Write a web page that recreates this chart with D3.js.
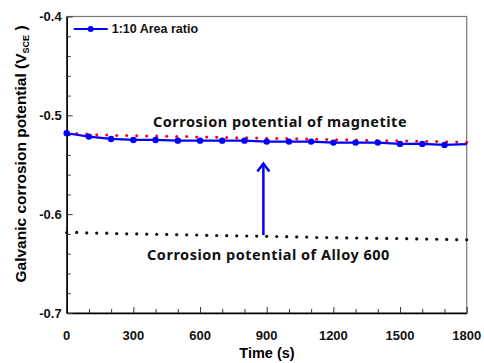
<!DOCTYPE html>
<html>
<head>
<meta charset="utf-8">
<script src="https://cdn.jsdelivr.net/npm/d3@7"></script>
<style>
  body { margin: 0; background: #fff; }
  text { font-family: "Liberation Sans", Arial, sans-serif; }
</style>
</head>
<body>
<div id="chart"></div>
<script>
// -------------------- DATA --------------------
const xTicks = [0, 300, 600, 900, 1200, 1500, 1800];
const yTicks = [-0.4, -0.5, -0.6, -0.7];

// blue series (1:10 area ratio), marker every 100 s
const blueTime = [0, 100, 200, 300, 400, 500, 600, 700, 800, 900, 1000, 1100, 1200, 1300, 1400, 1500, 1600, 1700];
const blueValue = [-0.5181, -0.5215, -0.5239, -0.5249, -0.5249, -0.5256, -0.5256, -0.5256, -0.5256, -0.5266, -0.5266, -0.5266, -0.5276, -0.5276, -0.5276, -0.5289, -0.5289, -0.5299];
const blueEnd = { t: 1800, v: -0.5292 };

// red dotted: corrosion potential of magnetite (every 45 s)
const redValue = [-0.5182, -0.5185, -0.5190, -0.5196, -0.5200, -0.5203, -0.5205, -0.5207, -0.5208, -0.5210,
  -0.5212, -0.5214, -0.5215, -0.5218, -0.5220, -0.5222, -0.5224, -0.5226, -0.5228, -0.5230,
  -0.5232, -0.5234, -0.5235, -0.5237, -0.5240, -0.5242, -0.5244, -0.5246, -0.5248, -0.5250,
  -0.5252, -0.5254, -0.5256, -0.5258, -0.5260, -0.5262, -0.5264, -0.5266, -0.5268, -0.5270, -0.5272];

// black dotted: corrosion potential of Alloy 600 (every 45 s)
const blackValue = [-0.6186, -0.6185, -0.6190, -0.6191, -0.6192, -0.6197, -0.6199, -0.6200, -0.6202, -0.6204,
  -0.6205, -0.6207, -0.6209, -0.6211, -0.6214, -0.6216, -0.6218, -0.6219, -0.6221, -0.6222,
  -0.6224, -0.6226, -0.6228, -0.6230, -0.6232, -0.6236, -0.6237, -0.6238, -0.6240, -0.6241,
  -0.6242, -0.6244, -0.6245, -0.6246, -0.6248, -0.6250, -0.6252, -0.6254, -0.6256, -0.6258, -0.6260];
const dotStep = 45;

const arrow = { t: 885, from: -0.6212, to: -0.5477 };

// -------------------- CHART --------------------
const width = 484, height = 363;
const margin = { top: 16.5, right: 17.3, bottom: 50, left: 66.7 };
const plotW = width - margin.left - margin.right;
const plotH = height - margin.top - margin.bottom;

const x = d3.scaleLinear().domain([0, 1800]).range([0, plotW]);
const y = d3.scaleLinear().domain([-0.7, -0.4]).range([plotH, 0]);

const svg = d3.select("#chart").append("svg")
  .attr("width", width)
  .attr("height", height);

const g = svg.append("g")
  .attr("transform", `translate(${margin.left},${margin.top})`);

// frame (top/right gray)
g.append("rect")
  .attr("x", 0).attr("y", 0)
  .attr("width", plotW).attr("height", plotH)
  .style("fill", "none")
  .style("stroke", "#777")
  .style("stroke-width", 1.2);

// x axis
const xAxis = g.append("g").attr("transform", `translate(0,${plotH})`);
xAxis.call(d3.axisBottom(x).tickValues(d3.range(0, 1801, 100)).tickSize(0).tickFormat(""));
xAxis.select(".domain").style("stroke", "#000").style("stroke-width", 1.5);
xAxis.selectAll(".tick").each(function (d) {
  const major = d % 300 === 0;
  d3.select(this).select("line")
    .attr("y2", major ? -6 : -4)
    .style("stroke", "#333");
});
xAxis.selectAll(".tickLabel")
  .data(xTicks).enter()
  .append("text")
  .attr("x", d => x(d))
  .attr("y", 27)
  .attr("text-anchor", "middle")
  .style("font-size", "13px")
  .style("font-weight", "bold")
  .style("fill", "#111")
  .text(d => d);

// y axis
const yAxis = g.append("g");
yAxis.call(d3.axisLeft(y).tickValues(d3.range(0, 16).map(i => -0.7 + i * 0.02)).tickSize(0).tickFormat(""));
yAxis.select(".domain").style("stroke", "#000").style("stroke-width", 1.5);
yAxis.selectAll(".tick").each(function (d, i) {
  const major = i % 5 === 0;
  d3.select(this).select("line")
    .attr("x2", major ? 6 : 4)
    .style("stroke", "#333");
});
yAxis.selectAll(".tickLabel")
  .data(yTicks).enter()
  .append("text")
  .attr("x", -5)
  .attr("y", d => y(d))
  .attr("dy", "0.35em")
  .attr("text-anchor", "end")
  .style("font-size", "13px")
  .style("font-weight", "bold")
  .style("fill", "#111")
  .text(d => d.toFixed(1));

// axis titles
svg.append("text")
  .attr("x", 267)
  .attr("y", 358)
  .attr("text-anchor", "middle")
  .style("font-size", "14.5px")
  .style("font-weight", "bold")
  .text("Time (s)");

const yTitle = svg.append("text")
  .attr("transform", "translate(26,154) rotate(-90)")
  .attr("text-anchor", "middle")
  .style("font-size", "15.5px")
  .style("font-weight", "bold");
yTitle.append("tspan").text("Galvanic corrosion potential (V");
yTitle.append("tspan").attr("dy", 3).style("font-size", "9px").text("SCE");
yTitle.append("tspan").attr("dy", -3).text(" )");

// black dotted series
g.selectAll(".blackDot")
  .data(blackValue).enter()
  .append("circle")
  .attr("class", "blackDot")
  .attr("cx", (d, i) => x(i * dotStep))
  .attr("cy", d => y(d))
  .attr("r", 1.6)
  .style("fill", "#111");

// red dotted series
g.selectAll(".redDot")
  .data(redValue).enter()
  .append("circle")
  .attr("class", "redDot")
  .attr("cx", (d, i) => x(i * dotStep))
  .attr("cy", d => y(d))
  .attr("r", 1.5)
  .style("fill", "#f00");

// blue line
const bluePts = blueTime.map((t, i) => [t, blueValue[i]]).concat([[blueEnd.t, blueEnd.v]]);
const line = d3.line().x(d => x(d[0])).y(d => y(d[1]));
g.append("path")
  .datum(bluePts)
  .attr("d", line)
  .style("fill", "none")
  .style("stroke", "#0000ff")
  .style("stroke-width", 2.2);

g.selectAll(".blueDot")
  .data(blueTime).enter()
  .append("circle")
  .attr("class", "blueDot")
  .attr("cx", d => x(d))
  .attr("cy", (d, i) => y(blueValue[i]))
  .attr("r", 3.2)
  .style("fill", "#0000ff");

// arrow
const ax = x(arrow.t), ay1 = y(arrow.from), ay2 = y(arrow.to);
g.append("line")
  .attr("x1", ax).attr("x2", ax)
  .attr("y1", ay1).attr("y2", ay2 + 1)
  .style("stroke", "#0000ff")
  .style("stroke-width", 2.5);
g.append("path")
  .attr("d", `M${ax - 6},${ay2 + 9}L${ax},${ay2 + 1}L${ax + 6},${ay2 + 9}`)
  .style("fill", "none")
  .style("stroke", "#0000ff")
  .style("stroke-width", 2.5)
  .style("stroke-linejoin", "miter");

// annotations
g.append("text")
  .attr("x", x(960))
  .attr("y", y(-0.5061))
  .attr("dy", "0.38em")
  .attr("text-anchor", "middle")
  .style("font-family", "'Noto Sans', sans-serif")
  .style("font-size", "14.5px")
  .style("font-weight", "bold")
  .style("letter-spacing", "0.5px")
  .style("fill", "#111")
  .text("Corrosion potential of magnetite");

g.append("text")
  .attr("x", x(908))
  .attr("y", y(-0.6411))
  .attr("dy", "0.38em")
  .attr("text-anchor", "middle")
  .style("font-family", "'Noto Sans', sans-serif")
  .style("font-size", "14.5px")
  .style("font-weight", "bold")
  .style("letter-spacing", "0.5px")
  .style("fill", "#111")
  .text("Corrosion potential of Alloy 600");

// legend
const leg = g.append("g").attr("transform", "translate(7,12.5)");
leg.append("line")
  .attr("x1", 0).attr("x2", 34)
  .attr("y1", 0).attr("y2", 0)
  .style("stroke", "#0000ff")
  .style("stroke-width", 2.2);
leg.append("circle")
  .attr("cx", 17).attr("cy", 0).attr("r", 3)
  .style("fill", "#0000ff");
leg.append("text")
  .attr("x", 38).attr("y", 0)
  .attr("dy", "0.35em")
  .style("font-size", "12.5px")
  .style("font-weight", "bold")
  .style("fill", "#111")
  .text("1:10 Area ratio");
</script>
</body>
</html>
